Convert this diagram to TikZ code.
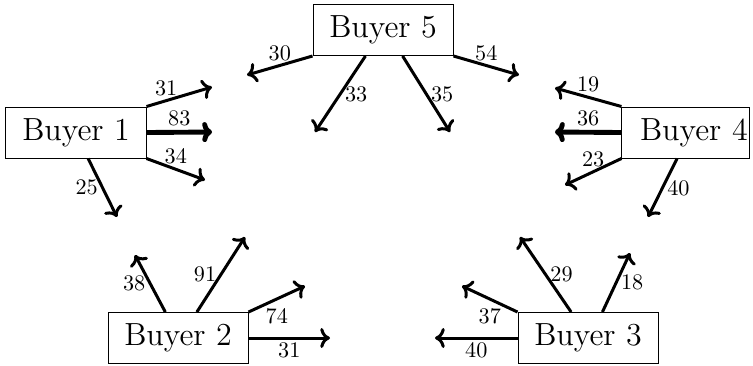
\documentclass[tikz,border=0pt]{standalone}
\usetikzlibrary{arrows.meta}
\tikzset{
  buyer/.style={draw, line width=0.45pt, minimum width=63pt, minimum height=22.95pt,
    inner sep=0pt, font=\Large},
  flow/.style={-{To[length=4.4pt,width=9pt]}, line width=1.35pt},
  heavy/.style={flow, line width=2.2pt},
  amt/.style={inner sep=1.5pt},
}

\begin{document}
\begin{tikzpicture}[x=0.45pt, y=-0.45pt]
  \useasboundingbox (0,0) rectangle (753,365);
  % Buyers
  \node[buyer] (b1) at (76,132.5) {Buyer 1};
  \node[buyer] (b2) at (178,338) {Buyer 2};
  \node[buyer] (b3) at (588,338) {Buyer 3};
  \node[buyer, minimum width=0pt, text width=56pt, inner xsep=0.6pt, align=right]
    (b4) at (685.5,132.5) {Buyer 4};
  \node[buyer] (b5) at (383,30) {Buyer 5};

  % free ends of the arrows
  \coordinate (e1a) at (212,87);
  \coordinate (e1b) at (212,132);
  \coordinate (e1c) at (205,180);
  \coordinate (e1d) at (117,217);
  \coordinate (e2a) at (135,255);
  \coordinate (e2b) at (245,237);
  \coordinate (e2c) at (305,286);
  \coordinate (e2d) at (330,338);
  \coordinate (e3a) at (462,286);
  \coordinate (e3b) at (520,237);
  \coordinate (e3c) at (630,253);
  \coordinate (e3d) at (435,338);
  \coordinate (e4a) at (555,88);
  \coordinate (e4b) at (555,132);
  \coordinate (e4c) at (565,185);
  \coordinate (e4d) at (648,217);
  \coordinate (e5a) at (247,75);
  \coordinate (e5b) at (315,132);
  \coordinate (e5c) at (450,132);
  \coordinate (e5d) at (519,75);

  % Buyer 1
  \draw[flow] (b1.north east) -- (e1a) node[amt, pos=.3, above] {31};
  \draw[heavy] (b1.east) -- (e1b) node[amt, pos=.5, above] {83};
  \draw[flow] (b1.south east) -- (e1c) node[amt, pos=.5, above] {34};
  \draw[flow] (b1.-65) -- (e1d) node[amt, pos=.5, left] {25};
  % Buyer 2
  \draw[flow] (b2.116) -- (e2a) node[amt, pos=.5, left] {38};
  \draw[flow] (b2.54) -- (e2b) node[amt, pos=.5, left] {91};
  \draw[flow] (b2.north east) -- (e2c) node[amt, pos=.5, below=2pt] {74};
  \draw[flow] (b2.east) -- (e2d) node[amt, pos=.5, below] {31};
  % Buyer 3
  \draw[flow] (b3.north west) -- (e3a) node[amt, pos=.5, below=2pt] {37};
  \draw[flow] (b3.123) -- (e3b) node[amt, pos=.5, right] {29};
  \draw[flow] (b3.61) -- (e3c) node[amt, pos=.5, right] {18};
  \draw[flow] (b3.west) -- (e3d) node[amt, pos=.5, below] {40};
  % Buyer 4
  \draw[flow] (b4.north west) -- (e4a) node[amt, pos=.5, above] {19};
  \draw[heavy] (b4.west) -- (e4b) node[amt, pos=.5, above] {36};
  \draw[flow] (b4.south west) -- (e4c) node[amt, pos=.5, above] {23};
  \draw[flow] (b4.-108) -- (e4d) node[amt, pos=.5, right] {40};
  % Buyer 5
  \draw[flow] (b5.south west) -- (e5a) node[amt, pos=.5, above] {30};
  \draw[flow] (b5.-124) -- (e5b) node[amt, pos=.5, right] {33};
  \draw[flow] (b5.-53) -- (e5c) node[amt, pos=.5, right] {35};
  \draw[flow] (b5.south east) -- (e5d) node[amt, pos=.5, above] {54};
\end{tikzpicture}
\end{document}
